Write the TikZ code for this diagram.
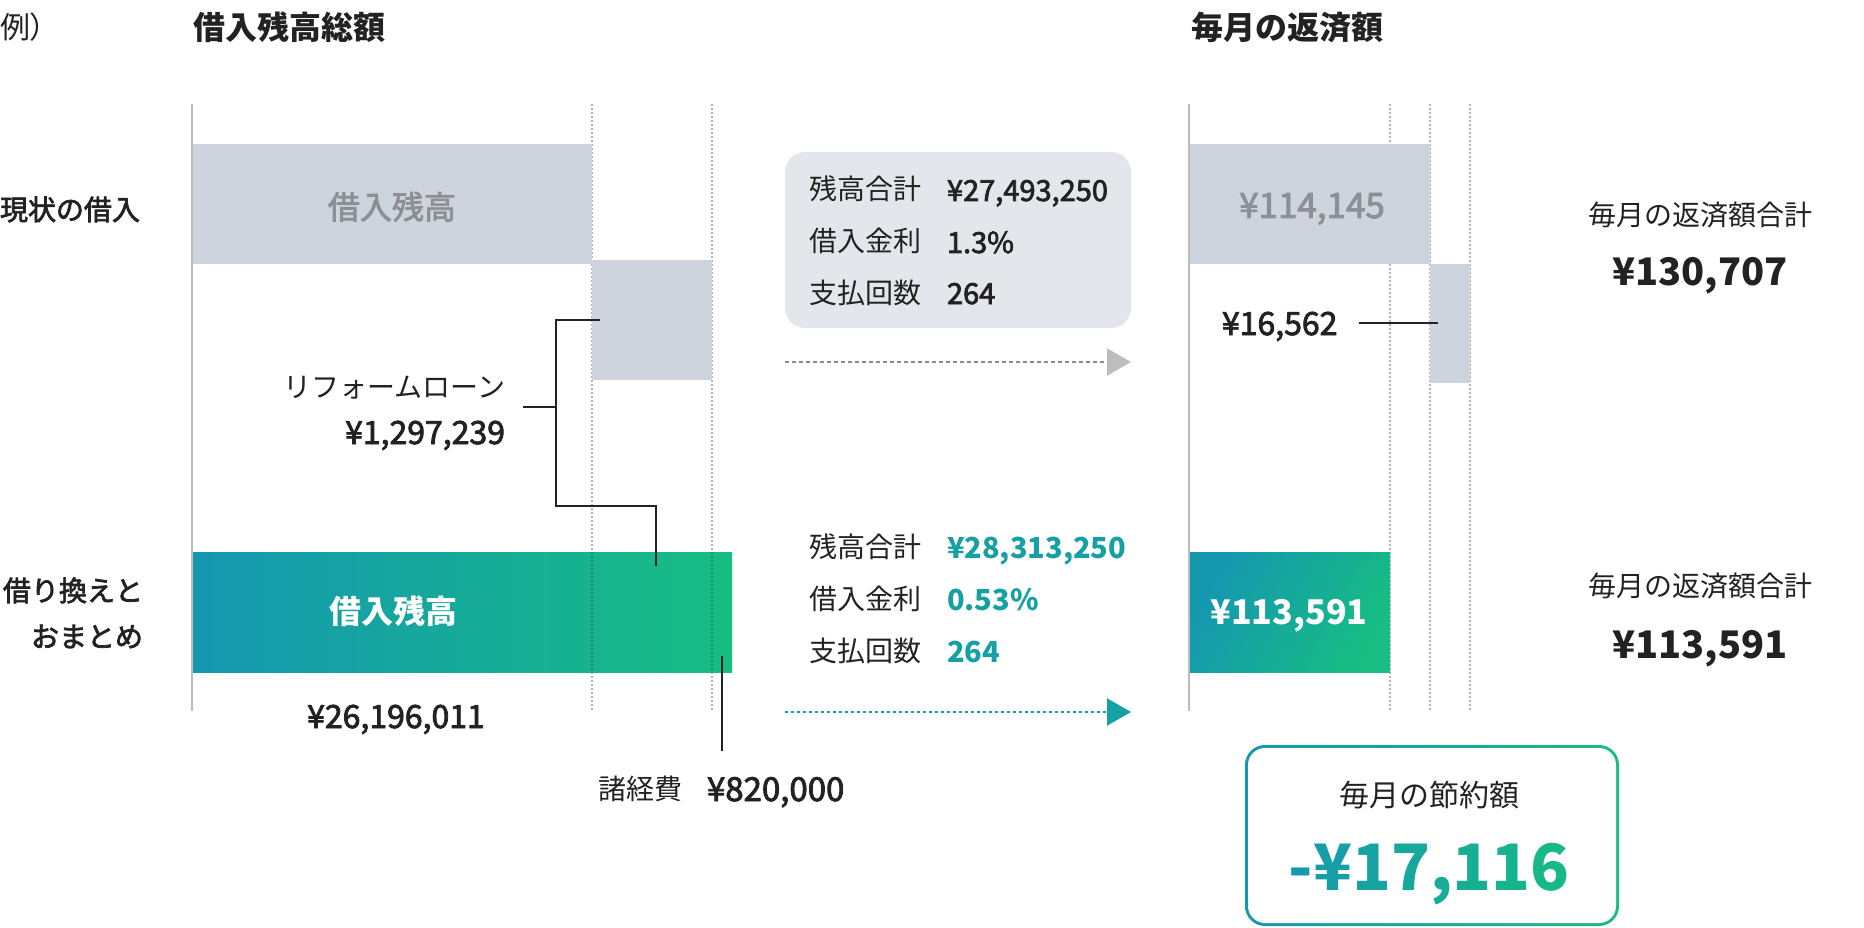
\documentclass[tikz,border=0pt]{standalone}
\usepackage{fontspec}
\setmainfont{Noto Sans CJK JP}
\newfontfamily\medfont[FakeBold=2.5]{Noto Sans CJK JP}
\usetikzlibrary{arrows.meta}
\definecolor{barGray}{HTML}{CED4DE}
\definecolor{boxGray}{HTML}{E3E6EB}
\definecolor{txtGray}{HTML}{8C8F94}
\definecolor{ink}{HTML}{222222}
\definecolor{gBlue}{HTML}{1597B0}
\definecolor{gGreen}{HTML}{17BD82}
\definecolor{tealTxt}{HTML}{17A0A3}
\definecolor{axisGray}{HTML}{BDBDBD}
\definecolor{dotGray}{HTML}{B4B4B4}
\definecolor{arrGray}{HTML}{8A8A8A}
\definecolor{headGray}{HTML}{BDBDBD}
\newcommand\setfs[1]{\fontsize{#1}{#1}\selectfont}
\begin{document}
\begin{tikzpicture}[x=1pt,y=-1pt,
  txt/.style={inner sep=0pt,outer sep=0pt,text=ink},
  bar/.style={inner sep=0pt,outer sep=0pt,anchor=north west,fill=barGray,draw=none},
  axisline/.style={draw=axisGray,line width=2pt},
  dotline/.style={draw=dotGray,line width=2pt,dash pattern=on 2pt off 2pt},
  conn/.style={draw=ink,line width=2pt},
  grayarrow/.style={draw=arrGray,line width=2pt,dash pattern=on 4pt off 3pt,-{Triangle[length=24pt,width=27pt,color=headGray]}},
  tealarrow/.style={draw=tealTxt,line width=2.5pt,dash pattern=on 3pt off 3pt,-{Triangle[length=24pt,width=27pt,color=tealTxt]}}
]
\useasboundingbox (0,0) rectangle (1864,928);
\fill[white] (0,0) rectangle (1864,928);

% headings
\node[txt,anchor=base west] (ex) at (0,39) {\setfs{30}例）};
\node[txt,anchor=base west] (h1) at (193,40) {\setfs{32}\bfseries 借入残高総額};
\node[txt,anchor=base west] (h2) at (1191,40) {\setfs{32}\bfseries 毎月の返済額};

% row labels
\node[txt,anchor=base west] (r1) at (0,220) {\setfs{28}\medfont 現状の借入};
\node[txt,anchor=base east] (r2a) at (143,601) {\setfs{28}\medfont 借り換えと};
\node[txt,anchor=base east] (r2b) at (143,647) {\setfs{28}\medfont おまとめ};

% dotted guide lines
\foreach \xx/\nm in {592/a,712/b,1390/c,1430/d,1470/e}{
  \coordinate (dt\nm) at (\xx,104);
  \coordinate (db\nm) at (\xx,711);
  \draw[dotline] (dt\nm) -- (db\nm);
}

% left bars
\node[bar,minimum width=400pt,minimum height=120pt] (gbar) at (192,144) {};
\node[bar,minimum width=120pt,minimum height=120pt] (rbar) at (592,260) {};
\node[inner sep=0pt,outer sep=0pt,anchor=north west,minimum width=540pt,minimum height=120pt,left color=gBlue,right color=gGreen] (nbar) at (192,552) {};
% dotted lines visible over the green bar
\draw[draw=black,opacity=0.22,line width=2pt,dash pattern=on 2pt off 2pt] (592,552) -- (592,672);
\draw[draw=black,opacity=0.22,line width=2pt,dash pattern=on 2pt off 2pt] (712,552) -- (712,672);

% right bars
\node[bar,minimum width=241pt,minimum height=120pt] (gbarR) at (1189,144) {};
\node[bar,minimum width=40pt,minimum height=119pt] (rbarR) at (1430,264) {};
\node[inner sep=0pt,outer sep=0pt,anchor=north west,minimum width=201pt,minimum height=120pt,shading=axis,left color=gBlue,right color=gGreen,shading angle=60] (nbarR) at (1189,552) {};

% axes
\coordinate (axLt) at (192,104); \coordinate (axLb) at (192,711);
\coordinate (axRt) at (1189,104); \coordinate (axRb) at (1189,711);
\draw[axisline] (axLt) -- (axLb);
\draw[axisline] (axRt) -- (axRb);

% bar texts
\node[txt,anchor=base,text=txtGray] (t1) at (392,219) {\setfs{32}\medfont 借入残高};
\node[txt,anchor=base,text=white] (t2) at (393,623) {\setfs{32}\bfseries 借入残高};
\node[txt,anchor=base,text=txtGray] (t3) at (1312,218) {\setfs{35}\medfont ¥114,145};
\node[txt,anchor=base,text=white] (t4) at (1289,624) {\setfs{34}\bfseries ¥113,591};

% reform loan labels and bracket
\node[txt,anchor=base east] (rl1) at (505,397) {\setfs{28}リフォームローン};
\node[txt,anchor=base east] (rl2) at (505,444) {\setfs{32}\medfont ¥1,297,239};
\coordinate (bkA) at (523,407);
\coordinate (bkB) at (556,407);
\coordinate (bkTop) at (556,320);
\coordinate (bkIn) at (600,320);
\coordinate (bkBot) at (556,506);
\coordinate (bkR) at (656,506);
\coordinate (bkEnd) at (656,566);
\draw[conn] (bkA) -- (bkB);
\draw[conn] (bkIn) -- (bkTop) -- (bkBot) -- (bkR) -- (bkEnd);

% total and fees
\node[txt,anchor=base] (tot) at (396,728) {\setfs{32}\medfont ¥26,196,011};
\coordinate (feeTop) at (722,656);
\coordinate (feeBot) at (722,751);
\draw[conn] (feeTop) -- (feeBot);
\node[txt,anchor=base west] (fee1) at (598,799) {\setfs{28}諸経費};
\node[txt,anchor=base west] (fee2) at (707,801) {\setfs{33}\medfont ¥820,000};

% info box (current)
\node[inner sep=0pt,outer sep=0pt,anchor=north west,minimum width=346pt,minimum height=176pt,fill=boxGray,rounded corners=20pt] (ibox) at (785,152) {};
\node[txt,anchor=base west] (l1) at (809,200) {\setfs{28}残高合計};
\node[txt,anchor=base west] (l2) at (809,252) {\setfs{28}借入金利};
\node[txt,anchor=base west] (l3) at (809,303) {\setfs{28}支払回数};
\node[txt,anchor=base west] (v1) at (947,201) {\setfs{29}\medfont ¥27,493,250};
\node[txt,anchor=base west] (v2) at (947,253) {\setfs{29}\medfont 1.3\%};
\node[txt,anchor=base west] (v3) at (947,304) {\setfs{29}\medfont 264};

% info (new)
\node[txt,anchor=base west] (m1) at (809,557) {\setfs{28}残高合計};
\node[txt,anchor=base west] (m2) at (809,609) {\setfs{28}借入金利};
\node[txt,anchor=base west] (m3) at (809,661) {\setfs{28}支払回数};
\node[txt,anchor=base west,text=tealTxt] (w1) at (947,558) {\setfs{29}\bfseries ¥28,313,250};
\node[txt,anchor=base west,text=tealTxt] (w2) at (947,610) {\setfs{29}\bfseries 0.53\%};
\node[txt,anchor=base west,text=tealTxt] (w3) at (947,662) {\setfs{29}\bfseries 264};

% arrows
\coordinate (a1s) at (785,362); \coordinate (a1e) at (1131,362);
\coordinate (a2s) at (785,712); \coordinate (a2e) at (1131,712);
\draw[grayarrow] (a1s) -- (a1e);
\draw[tealarrow] (a2s) -- (a2e);

% 16,562
\node[txt,anchor=base west] (s1) at (1222,335) {\setfs{32}\medfont ¥16,562};
\coordinate (s1a) at (1359,323); \coordinate (s1b) at (1438,323);
\draw[conn] (s1a) -- (s1b);

% totals right
\node[txt,anchor=base] (k1) at (1700,226) {\setfs{28}毎月の返済額合計};
\node[txt,anchor=base] (k2) at (1700,286) {\setfs{38}\bfseries ¥130,707};
\node[txt,anchor=base] (k3) at (1700,596) {\setfs{28}毎月の返済額合計};
\node[txt,anchor=base] (k4) at (1700,658) {\setfs{38}\bfseries ¥113,591};

% savings box
\node[inner sep=0pt,outer sep=0pt,anchor=north west,minimum width=374pt,minimum height=181pt,rounded corners=20pt,left color=gBlue,right color=gGreen] (sbox) at (1245,745) {};
\node[inner sep=0pt,outer sep=0pt,anchor=north west,minimum width=368pt,minimum height=175pt,rounded corners=17pt,fill=white] (sboxin) at (1248,748) {};
\node[txt,anchor=base] (sv1) at (1429,806) {\setfs{30}毎月の節約額};
\node[txt,anchor=base] (sv2) at (1429,890) {\setfs{64}\bfseries
  \textcolor{gGreen!5!gBlue}{-}\textcolor{gGreen!18!gBlue}{¥}\textcolor{gGreen!33!gBlue}{1}\textcolor{gGreen!45!gBlue}{7}\textcolor{gGreen!55!gBlue}{,}\textcolor{gGreen!64!gBlue}{1}\textcolor{gGreen!77!gBlue}{1}\textcolor{gGreen!92!gBlue}{6}};
\end{tikzpicture}
\end{document}
